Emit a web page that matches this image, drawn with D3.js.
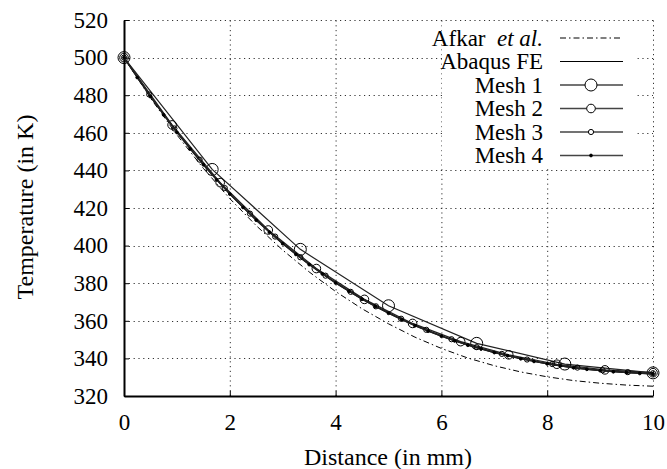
<!DOCTYPE html>
<html>
<head>
<meta charset="utf-8">
<script src="https://d3js.org/d3.v7.min.js"></script>
<style>
	body { margin: 0; background: #fff; }
</style>
</head>
<body>
<svg id="temp-plot" width="667" height="469" viewBox="0 0 667 469"></svg>
<script>
// values
const xTicks = [0, 2, 4, 6, 8, 10];
const yTicks = [320, 340, 360, 380, 400, 420, 440, 460, 480, 500, 520];

const afkarX = [0, 0.5, 1, 1.5, 2, 2.5, 3, 3.5, 4, 4.5, 5, 5.5, 6, 6.5, 7, 7.5, 8, 8.5, 9, 9.5, 10];
const afkarT = [500, 478.5, 458.9, 441.1, 425.0, 410.6, 397.6, 386.0, 375.6, 366.4, 358.4, 351.3, 345.3, 340.2, 336.1, 332.8, 330.2, 328.2, 326.8, 325.8, 325.2];

const abaqusX = [0, 0.5, 1, 1.5, 2, 2.5, 3, 3.5, 4, 4.5, 5, 5.5, 6, 6.5, 7, 7.5, 8, 8.5, 9, 9.5, 10];
const abaqusT = [500, 479.2, 460.2, 443.0, 427.4, 413.5, 401.0, 389.9, 380.1, 371.5, 364.0, 357.4, 351.8, 347.0, 343.1, 339.8, 337.1, 335.0, 333.5, 332.4, 331.8];

const mesh1X = [0, 1.667, 3.333, 5, 6.667, 8.333, 10];
const mesh1T = [500, 440.5, 398, 368, 348, 337, 332.3];

const mesh2X = [0, 0.909, 1.818, 2.727, 3.636, 4.545, 5.455, 6.364, 7.273, 8.182, 9.091, 10];
const mesh2T = [500, 464.2, 433.5, 408.3, 387.8, 371.4, 358.6, 348.9, 341.9, 336.9, 333.9, 332.4];

const mesh3X = [0, 0.476, 0.952, 1.429, 1.905, 2.381, 2.857, 3.333, 3.810, 4.286, 4.762, 5.238, 5.714, 6.190, 6.667, 7.143, 7.619, 8.095, 8.571, 9.048, 9.524, 10];
const mesh3T = [500, 480.4, 462.3, 445.7, 430.6, 417.0, 404.8, 393.8, 384.0, 375.4, 367.7, 361.1, 355.2, 350.2, 346.0, 342.4, 339.4, 337.0, 335.1, 333.7, 332.7, 332.1];

const mesh4X = [0, 0.25, 0.5, 0.75, 1, 1.25, 1.5, 1.75, 2, 2.25, 2.5, 2.75, 3, 3.25, 3.5, 3.75, 4, 4.25, 4.5, 4.75, 5,
	5.25, 5.5, 5.75, 6, 6.25, 6.5, 6.75, 7, 7.25, 7.5, 7.75, 8, 8.25, 8.5, 8.75, 9, 9.25, 9.5, 9.75, 10];
const mesh4T = [500, 489.4, 479.2, 469.5, 460.2, 451.4, 443.0, 435.0, 427.4, 420.3, 413.5, 407.1, 401.0, 395.3, 389.9, 384.9, 380.1, 375.7, 371.5, 367.6, 364.0,
	360.6, 357.4, 354.5, 351.8, 349.3, 347.0, 345.0, 343.1, 341.4, 339.8, 338.4, 337.1, 336.0, 335.0, 334.2, 333.5, 332.9, 332.4, 332.0, 331.8];

const seriesNames = ["Afkar", "Abaqus FE", "Mesh 1", "Mesh 2", "Mesh 3", "Mesh 4"];

const SERIF = "Liberation Serif";

function drawPlot(svg_id) {
	const svg = d3.select('#' + svg_id);

	const x = d3.scaleLinear().domain([0, 10]).range([124, 653]);
	const y = d3.scaleLinear().domain([320, 520]).range([396, 20]);

	// dotted grid, includes top and right border
	const grid = svg.append('g').attr('class', 'grid')
		.attr('stroke', '#333')
		.attr('stroke-width', 1)
		.attr('stroke-dasharray', '1.2,3.6');

	grid.selectAll('.gx')
		.data(xTicks.filter(d => d > 0))
		.enter().append('line')
		.attr('x1', d => x(d) + 0.5).attr('x2', d => x(d) + 0.5)
		.attr('y1', y(320)).attr('y2', y(520));

	grid.selectAll('.gy')
		.data(yTicks.filter(d => d > 320))
		.enter().append('line')
		.attr('y1', d => Math.round(y(d)) + 0.5).attr('y2', d => Math.round(y(d)) + 0.5)
		.attr('x1', x(0)).attr('x2', x(10));

	// axes, ticks pointing inwards
	const xAxis = d3.axisBottom(x).tickValues(xTicks).tickSize(-5).tickSizeOuter(0).tickPadding(18);
	const yAxis = d3.axisLeft(y).tickValues(yTicks).tickSize(-5).tickSizeOuter(0).tickPadding(16);

	const gx = svg.append('g').attr('transform', 'translate(0,' + y(320) + ')').call(xAxis);
	const gy = svg.append('g').attr('transform', 'translate(' + x(0) + ',0)').call(yAxis);

	[gx, gy].forEach(g => {
		g.attr('font-family', SERIF).attr('font-size', 23);
		g.select('.domain').attr('stroke', '#000').attr('stroke-width', 2);
		g.selectAll('.tick line').attr('stroke', '#000').attr('stroke-width', 1);
		g.selectAll('.tick text')
			.attr('font-family', SERIF)
			.attr('font-size', 23)
			.attr('fill', '#000');
	});

	// axis titles
	svg.append('text')
		.attr('x', 388).attr('y', 465)
		.attr('text-anchor', 'middle')
		.attr('font-family', SERIF)
		.attr('font-size', 24)
		.text('Distance (in mm)');

	svg.append('text')
		.attr('transform', 'translate(33,207) rotate(-90)')
		.attr('text-anchor', 'middle')
		.attr('font-family', SERIF)
		.attr('font-size', 24)
		.text('Temperature (in K)');

	const line = d3.line().x(d => x(d[0])).y(d => y(d[1]));
	const pairs = (xs, ts) => xs.map((v, i) => [v, ts[i]]);

	const series = [
		{ data: pairs(afkarX, afkarT), stroke: '#000', width: 1, dash: '6,3,1.5,3', r: 0 },
		{ data: pairs(abaqusX, abaqusT), stroke: '#000', width: 1.2, dash: null, r: 0 },
		{ data: pairs(mesh1X, mesh1T), stroke: '#222', width: 1.2, dash: null, r: 6 },
		{ data: pairs(mesh2X, mesh2T), stroke: '#222', width: 1.2, dash: null, r: 4.3 },
		{ data: pairs(mesh3X, mesh3T), stroke: '#222', width: 1.2, dash: null, r: 2.6 },
		{ data: pairs(mesh4X, mesh4T), stroke: '#222', width: 1.2, dash: null, r: 1.4 }
	];

	const curves = svg.append('g');
	series.forEach((s, i) => {
		curves.append('path')
			.datum(s.data)
			.attr('d', line)
			.attr('fill', 'none')
			.attr('stroke', s.stroke)
			.attr('stroke-width', s.width)
			.attr('stroke-dasharray', s.dash);

		if (s.r > 0) {
			curves.selectAll('.m' + i)
				.data(s.data)
				.enter().append('circle')
				.attr('cx', d => x(d[0]))
				.attr('cy', d => y(d[1]))
				.attr('r', s.r)
				.attr('fill', i === 5 ? '#000' : 'none')
				.attr('stroke', '#000')
				.attr('stroke-width', 1);
		}
	});

	// legend with white box
	const legend = svg.append('g');
	legend.append('rect')
		.attr('x', 442).attr('y', 22)
		.attr('width', 194).attr('height', 144)
		.attr('fill', '#fff');

	const rowY = i => 38 + i * 23.5;

	seriesNames.forEach((name, i) => {
		const t = legend.append('text')
			.attr('x', 543).attr('y', rowY(i))
			.attr('dy', '0.34em')
			.attr('text-anchor', 'end')
			.attr('font-family', SERIF)
			.attr('font-size', 23);
		if (i === 0) {
			t.append('tspan').text(name + '\u00a0\u00a0');
			t.append('tspan').attr('font-style', 'italic').text('et al.');
		} else {
			t.text(name);
		}

		const s = series[i];
		legend.append('line')
			.attr('x1', 560).attr('x2', 623)
			.attr('y1', rowY(i)).attr('y2', rowY(i))
			.attr('stroke', i >= 2 ? '#444' : '#000')
			.attr('stroke-width', i >= 2 ? 1.6 : 1.2)
			.attr('stroke-dasharray', s.dash);
		if (s.r > 0) {
			legend.append('circle')
				.attr('cx', 591).attr('cy', rowY(i))
				.attr('r', s.r)
				.attr('fill', i === 5 ? '#000' : '#fff')
				.attr('stroke', '#000');
		}
	});
}

function whenDocumentLoaded(action) {
	if (document.readyState === "loading") {
		document.addEventListener("DOMContentLoaded", action);
	} else {
		action();
	}
}

whenDocumentLoaded(() => drawPlot('temp-plot'));
</script>
</body>
</html>
